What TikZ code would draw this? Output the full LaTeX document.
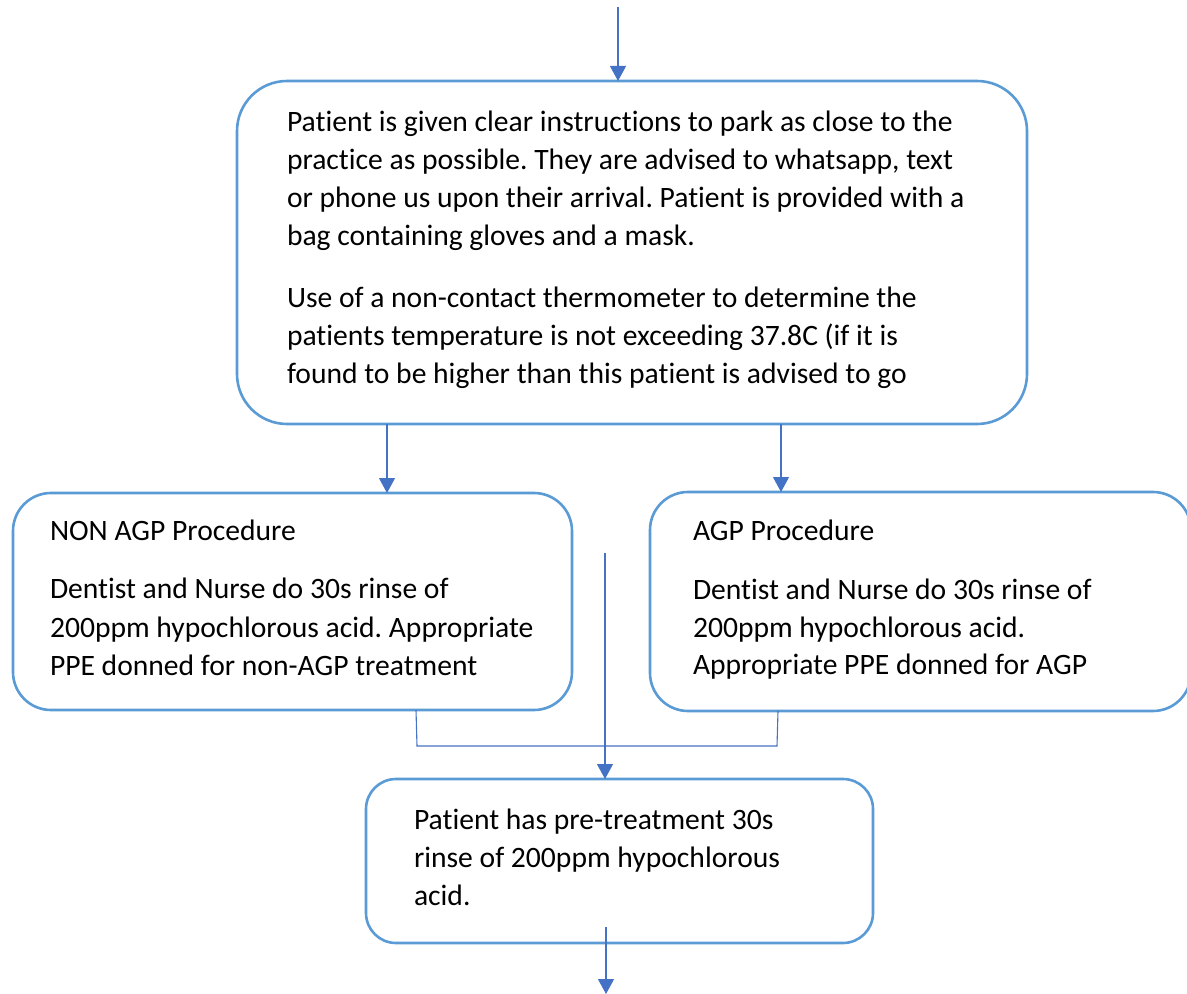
\documentclass[tikz,border=0pt]{standalone}
\usepackage{fontspec}
\setmainfont[Ligatures=NoCommon]{Carlito}
\frenchspacing
\usetikzlibrary{arrows.meta}
\definecolor{boxblue}{HTML}{5B9BD5}
\definecolor{arrblue}{HTML}{4472C4}
\begin{document}
\begin{tikzpicture}[x=0.5pt,y=-0.5pt,
  box/.style={draw=boxblue,line width=1.3pt,fill=white,inner sep=0pt,outer sep=0pt},
  txt/.style={anchor=base west,inner sep=0pt,outer sep=0pt,font=\fontsize{14.8pt}{17pt}\selectfont},
  arr/.style={draw=arrblue,line width=0.55pt,-{Triangle[length=7.5pt,width=8pt]}},
  lnk/.style={draw=arrblue,line width=0.55pt}]
\useasboundingbox (0,0) rectangle (1187,994);
\clip (0,0) rectangle (1187,994);
% boxes
\node[box,rounded corners=25pt,minimum width=395pt,minimum height=171.5pt] (top) at (632,252.5) {};
\node[box,rounded corners=19pt,minimum width=279.5pt,minimum height=108.5pt] (left) at (292.5,601.5) {};
\node[box,rounded corners=19pt,minimum width=270.5pt,minimum height=109.5pt] (right) at (920.5,601.5) {};
\node[box,rounded corners=15pt,minimum width=253.5pt,minimum height=82pt] (bot) at (619.5,861) {};
% texts
\node[txt] (t1) at (287,132) {Patient is given clear instructions to park as close to the};
\node[txt] (t2) at (287,170) {practice as possible. They are advised to whatsapp, text};
\node[txt] (t3) at (287,208) {or phone us upon their arrival. Patient is provided with a};
\node[txt] (t4) at (287,246) {bag containing gloves and a mask.};
\node[txt] (t5) at (287,307) {Use of a non-contact thermometer to determine the};
\node[txt] (t6) at (287,345) {patients temperature is not exceeding 37.8C (if it is};
\node[txt] (t7) at (287,383) {found to be higher than this patient is advised to go};
\node[txt] (l1) at (50,540) {NON AGP Procedure};
\node[txt] (l2) at (50,598) {Dentist and Nurse do 30s rinse of};
\node[txt] (l3) at (50,637) {200ppm hypochlorous acid. Appropriate};
\node[txt] (l4) at (50,675) {PPE donned for non-AGP treatment};
\node[txt] (r1) at (693,540) {AGP Procedure};
\node[txt] (r2) at (693,599) {Dentist and Nurse do 30s rinse of};
\node[txt] (r3) at (693,637) {200ppm hypochlorous acid.};
\node[txt] (r4) at (693,674) {Appropriate PPE donned for AGP};
\node[txt] (b1) at (414,829) {Patient has pre-treatment 30s};
\node[txt] (b2) at (414,867) {rinse of 200ppm hypochlorous};
\node[txt] (b3) at (414,905) {acid.};
% connector helper coordinates
\coordinate (start) at (618,7);
\coordinate (cl) at (387,0);
\coordinate (cr) at (781,0);
\coordinate (bl) at (417,746);
\coordinate (br) at (777,746);
\coordinate (cstart) at (605,553);
\coordinate (bstart) at (606,927);
\coordinate (bend) at (606,994);
% connectors
\draw[arr] (start) -- (start |- top.north);
\draw[arr] (top.south -| cl) -- (left.north -| cl);
\draw[arr] (top.south -| cr) -- (right.north -| cr);
\draw[lnk] (left.south -| 416,0) -- (bl) -- (br) -- (right.south -| 778,0);
\draw[arr] (cstart) -- (cstart |- bot.north);
\draw[arr] (bstart) -- (bend);
\end{tikzpicture}
\end{document}
